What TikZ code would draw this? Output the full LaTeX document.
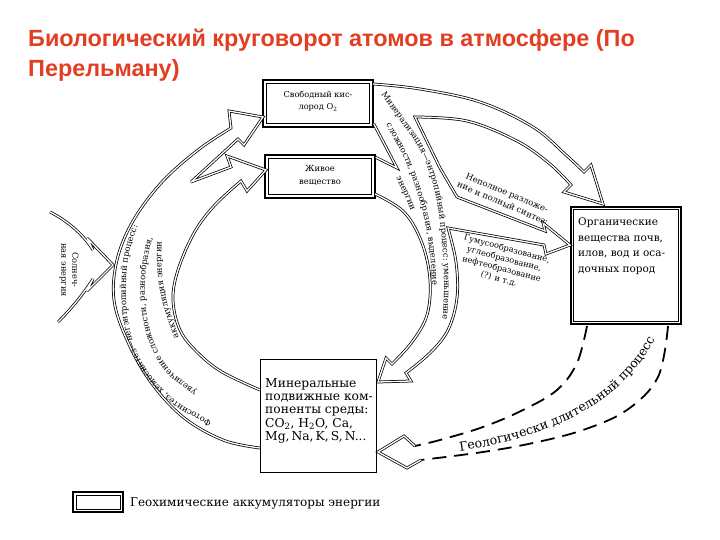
\documentclass[tikz,border=0pt]{standalone}
\usepackage{fontspec}
\setmainfont{DejaVu Serif}
\newfontfamily\titlefont{Liberation Sans}
\usetikzlibrary{decorations.text}
\definecolor{titlered}{RGB}{226,62,34}
\tikzset{
  band/.style={draw=black, line width=0.75pt, double=white, double distance=1.3pt, line join=miter, miter limit=5},
  geoline/.style={draw=black, line width=1.8pt, dash pattern=on 14pt off 8pt},
  accbox/.style={draw=black, line width=1.4pt, inner sep=0pt},
  plainbox/.style={draw=black, line width=0.9pt, inner sep=0pt},
  innerline/.style={draw=black, line width=0.5pt},
  lbl/.style={inner sep=0pt, align=center},
  boxtext/.style={inner sep=0pt, align=left, anchor=north west},
  ttl/.style={anchor=base west, inner sep=0pt, text=titlered, font=\titlefont\bfseries\fontsize{23.4}{31}\selectfont},
}
\newcommand{\crvfont}{\fontsize{8.4}{10}\selectfont}
\newcommand{\geofont}{\fontsize{12.5}{14}\selectfont}
\begin{document}
\begin{tikzpicture}[x=1pt,y=-1pt]
\path[use as bounding box, fill=white] (0,0) rectangle (720,540);

% title
\node[ttl] (title1) at (28,47) {Биологический круговорот атомов в атмосфере (По};
\node[ttl] (title2) at (28,77) {Перельману)};

% boxes
\node[accbox, minimum width=110pt, minimum height=47pt] (o2) at (318,103.5) {};
\draw[innerline] ([shift={(4pt,-4pt)}]o2.north west) rectangle ([shift={(-4pt,4pt)}]o2.south east);
\node[lbl, font=\fontsize{8.2}{12.5}\selectfont] (o2t) at (318,101) {Свободный кис-\\лород O\textsubscript{2}};

\node[accbox, minimum width=110pt, minimum height=43pt] (live) at (320,176.5) {};
\draw[innerline] ([shift={(4pt,-4pt)}]live.north west) rectangle ([shift={(-4pt,4pt)}]live.south east);
\node[lbl, font=\fontsize{8.4}{13}\selectfont] (livet) at (320,176) {Живое\\вещество};

\node[plainbox, line width=1.1pt, minimum width=110pt, minimum height=117pt] (org) at (626,265.5) {};
\draw[innerline] ([shift={(3pt,-3pt)}]org.north west) rectangle ([shift={(-3pt,3pt)}]org.south east);
\node[boxtext, font=\fontsize{10.5}{15.5}\selectfont] (orgt) at (578,218) {Органические\\вещества почв,\\илов, вод и оса-\\дочных пород};

\node[plainbox, minimum width=116pt, minimum height=113pt] (min) at (318,415.5) {};
\node[boxtext, font=\fontsize{12.3}{13.3}\selectfont] (mint) at (265,378) {Минеральные\\подвижные ком-\\поненты среды:\\CO\textsubscript{2}, H\textsubscript{2}O, Ca,\\Mg,\,Na,\,K,\,S,\,N...};

% legend
\node[accbox, minimum width=50pt, minimum height=20pt] (leg) at (98,502) {};
\draw[innerline] ([shift={(3.5pt,-3.5pt)}]leg.north west) rectangle ([shift={(-3.5pt,3.5pt)}]leg.south east);
\node[anchor=west, inner sep=0pt, font=\fontsize{12}{14}\selectfont] (legt) at (130,503) {Геохимические аккумуляторы энергии};

% left band (photosynthesis)
\draw[band] plot[smooth,tension=0.6] coordinates {(260,448) (223,440) (183,417) (150,381) (127,340) (114,300) (117,260) (133,221) (162,182) (198,150) (231,128)}
  -- (229,111) -- (263,117) -- (244,145) -- (238,139) -- (191,182) -- (231,167) -- (227,156) -- (266,170) -- (247,191) -- (241,181)
  -- plot[smooth,tension=0.6] coordinates {(241,181) (214,206) (194,233) (178,270) (173,300) (180,330) (197,352) (222,372) (260,390)};

% right band (mineralisation) with branches
\draw[band] plot[smooth,tension=0.6] coordinates {(373,84) (420,89) (480,102) (533,127) (566,155) (584,172)}
  -- (591,165) -- (603,204) -- (564,192) -- (571,185)
  -- plot[smooth,tension=0.6] coordinates {(571,185) (550,164) (517,141) (467,121) (415,117)}
  -- (440,168) -- (457,197) -- (545,231) -- (543,223) -- (570,245) -- (546,254) -- (544,245) -- (448,228)
  -- plot[smooth,tension=0.6] coordinates {(448,228) (456,262) (457,298) (448,330) (430,353) (406,373)}
  -- (411,381) -- (378,382) -- (386,358) -- (392,364)
  -- plot[smooth,tension=0.6] coordinates {(392,364) (412,342) (427,315) (430,280) (422,243) (404,212) (375,194)};
\coordinate (vA) at ([yshift=4pt]o2.south east);
\coordinate (vV) at (397,168);
\coordinate (vB) at ([yshift=-3pt]live.north east);
\draw[band] (vA) -- (vV) -- (vB);

% sun energy
\draw[band] (50,212) .. controls (70,222) and (85,237) .. (93,250) -- (87,238) -- (113,265) -- (87,291) -- (93,279) .. controls (82,296) and (70,310) .. (58,322);
\node[lbl, rotate=-90, font=\fontsize{8.3}{11}\selectfont] (sun) at (69,270) {Солнеч-\\ная энергия};

% geological process (dashed)
\draw[geoline] plot[smooth,tension=0.6] coordinates {(668,326) (658,377) (627,410) (583,430) (533,443) (483,452) (421,460)};
\draw[geoline] plot[smooth,tension=0.6] coordinates {(587,326) (577,363) (557,390) (523,410) (483,427) (440,440) (415,446)};
\draw[band] (415,446) -- (404,436) -- (378,452) -- (407,468) -- (421,460);

% labels on the right
\node[lbl, rotate=-23, font=\fontsize{8.5}{11}\selectfont] (nepoln) at (505,198) {Неполное разложе-\\ние и полный синтез:};
\node[lbl, rotate=-15, font=\fontsize{8.2}{10.4}\selectfont] (gumus) at (503,264) {Гумусообразование,\\углеобразование,\\нефтеобразование\\(?) и т.д.};

% curved texts: left band
\path[decorate,decoration={text along path, text align=left, text={|\crvfont|Фотосинтез, хемосинтез—негэнтропийный процесс:}}]
  plot[smooth,tension=0.6] coordinates {(212,421) (176,401) (146,369) (130,331) (126,290) (130,250) (146,208) (162,186)};
\path[decorate,decoration={text along path, text align=left, text={|\crvfont|увеличение сложности, разнообразия,}}]
  plot[smooth,tension=0.6] coordinates {(197,391) (169,369) (152,337) (145,297) (148,257) (160,215) (172,198)};
\path[decorate,decoration={text along path, text align=left, text={|\crvfont|аккумуляция энергии}}]
  plot[smooth,tension=0.6] coordinates {(179,337) (168,306) (162,272) (162,240) (167,215)};

% curved texts: right band
\path[decorate,decoration={text along path, text align=left, text={|\crvfont|Минерализация—энтропийный процесс: уменьшение}}]
  plot[smooth,tension=0.6] coordinates {(381,95) (401,122) (421,152) (435,192) (442,240) (444,290) (441,340)};
\path[decorate,decoration={text along path, text align=left, text={|\crvfont|сложности, разнообразия, выделение}}]
  plot[smooth,tension=0.6] coordinates {(386,125) (404,158) (419,198) (428,238) (432,280) (431,300)};
\path[decorate,decoration={text along path, text align=left, text={|\crvfont|энергии}}]
  plot[smooth,tension=0.6] coordinates {(396,178) (404,194) (411,212) (414,225)};

% curved text: geological process
\path[decorate,decoration={text along path, text align=left, text={|\geofont|Геологически длительный процесс}}]
  (460,451) .. controls (560,436) and (640,395) .. (666,312);
\end{tikzpicture}
\end{document}
